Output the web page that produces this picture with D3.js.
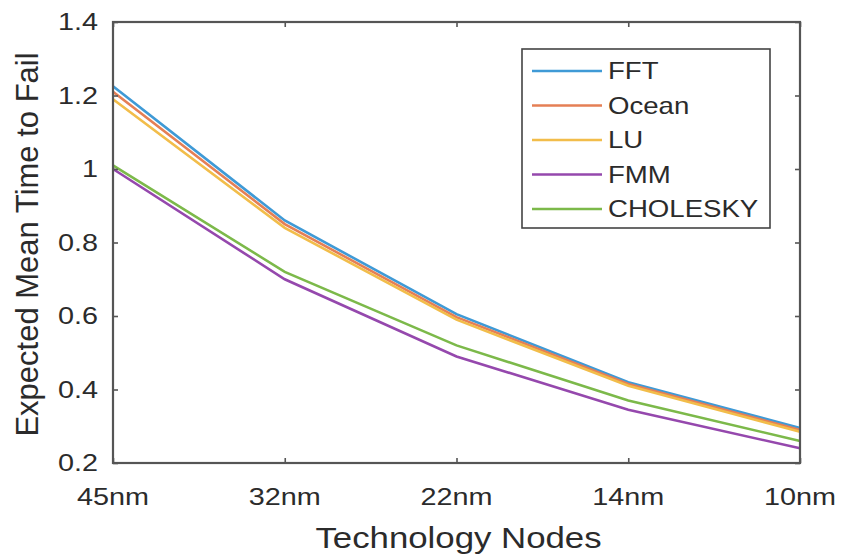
<!DOCTYPE html>
<html>
<head>
<meta charset="utf-8">
<script src="https://cdn.jsdelivr.net/npm/d3@7"></script>
<style>
  body { margin: 0; background: #fff; }
  text { font-family: "Liberation Sans", Arial, sans-serif; fill: #2b2b2b; }
</style>
</head>
<body>
<div id="chart"></div>
<script>
var nodes = ["45nm", "32nm", "22nm", "14nm", "10nm"];
var seriesNames = ["FFT", "Ocean", "LU", "FMM", "CHOLESKY"];
var fft      = [1.225, 0.86, 0.605, 0.42, 0.295];
var ocean    = [1.21, 0.85, 0.597, 0.415, 0.29];
var lu       = [1.19, 0.84, 0.59, 0.41, 0.285];
var fmm      = [1.0, 0.70, 0.49, 0.345, 0.24];
var cholesky = [1.01, 0.72, 0.52, 0.37, 0.26];
var yTicks = [0.2, 0.4, 0.6, 0.8, 1, 1.2, 1.4];
var colors = ["#3f9ad6", "#e57f55", "#f2bd4a", "#9548ad", "#7cb94a"];

var allSeries = [fft, ocean, lu, fmm, cholesky];

var W = 841, H = 555;
var m = {left: 113, right: 41, top: 22, bottom: 92};
var sx = 1.2; // the picture is a bit wider than tall

var svg = d3.select("#chart").append("svg")
  .attr("width", W)
  .attr("height", H);

var x = d3.scalePoint().domain(nodes).range([m.left, W - m.right]);
var y = d3.scaleLinear().domain([0.2, 1.4]).range([H - m.bottom, m.top]);

var axisColor = "#555";

// lines first, axes box on top
var line = d3.line()
  .x(function(d, i) { return x(nodes[i]); })
  .y(function(d) { return y(d); });

svg.selectAll(".series")
  .data(allSeries)
  .enter().append("path")
  .attr("class", "series")
  .attr("d", line)
  .attr("fill", "none")
  .attr("stroke", function(d, i) { return colors[i]; })
  .attr("stroke-width", 2.6);

// box
svg.append("rect")
  .attr("x", m.left).attr("y", m.top)
  .attr("width", W - m.left - m.right)
  .attr("height", H - m.top - m.bottom)
  .attr("fill", "none")
  .attr("stroke", axisColor)
  .attr("stroke-width", 2.2);

// axes with inward ticks
var bottomAxis = svg.append("g")
  .attr("transform", "translate(0," + (H - m.bottom) + ")")
  .call(d3.axisBottom(x).tickSize(-5).tickFormat(""));
var topAxis = svg.append("g")
  .attr("transform", "translate(0," + m.top + ")")
  .call(d3.axisTop(x).tickSize(-5).tickFormat(""));
var leftAxis = svg.append("g")
  .attr("transform", "translate(" + m.left + ",0)")
  .call(d3.axisLeft(y).tickValues(yTicks).tickSize(-5).tickFormat(""));
var rightAxis = svg.append("g")
  .attr("transform", "translate(" + (W - m.right) + ",0)")
  .call(d3.axisRight(y).tickValues(yTicks).tickSize(-5).tickFormat(""));

[bottomAxis, topAxis, leftAxis, rightAxis].forEach(function(a) {
  a.select(".domain").remove();
  a.selectAll(".tick line").attr("stroke", axisColor).attr("stroke-width", 1.6);
});

// tick labels, stretched a little sideways like the picture
svg.selectAll(".xlab")
  .data(nodes)
  .enter().append("text")
  .attr("class", "xlab")
  .attr("transform", function(d) { return "translate(" + x(d) + "," + (H - m.bottom + 42) + ") scale(" + sx + ",1)"; })
  .attr("text-anchor", "middle")
  .style("font-size", "24px")
  .text(function(d) { return d; });

svg.selectAll(".ylab")
  .data(yTicks)
  .enter().append("text")
  .attr("class", "ylab")
  .attr("transform", function(d) { return "translate(" + (m.left - 15) + "," + (y(d) + 8) + ") scale(" + sx + ",1)"; })
  .attr("text-anchor", "end")
  .style("font-size", "24px")
  .text(function(d) { return d; });

// axis titles
svg.append("text")
  .attr("transform", "translate(" + ((m.left + W - m.right) / 2 + 2) + "," + (H - 7) + ") scale(" + sx + ",1)")
  .attr("text-anchor", "middle")
  .style("font-size", "29px")
  .text("Technology Nodes");

svg.append("text")
  .attr("transform", "translate(38," + ((m.top + H - m.bottom) / 2 + 2) + ") rotate(-90)")
  .attr("text-anchor", "middle")
  .style("font-size", "31px")
  .text("Expected Mean Time to Fail");

// legend
var lg = svg.append("g").attr("transform", "translate(522,49)");
lg.append("rect")
  .attr("width", 248).attr("height", 179)
  .attr("fill", "#fff")
  .attr("stroke", "#444")
  .attr("stroke-width", 1.6);

var items = lg.selectAll(".item")
  .data(seriesNames)
  .enter().append("g")
  .attr("class", "item")
  .attr("transform", function(d, i) { return "translate(0," + (22 + i * 34.5) + ")"; });

items.append("line")
  .attr("x1", 10).attr("x2", 80)
  .attr("stroke", function(d, i) { return colors[i]; })
  .attr("stroke-width", 2.6);

items.append("text")
  .attr("transform", "translate(86,8) scale(1.2,1)")
  .style("font-size", "23px")
  .text(function(d) { return d; });
</script>
</body>
</html>
